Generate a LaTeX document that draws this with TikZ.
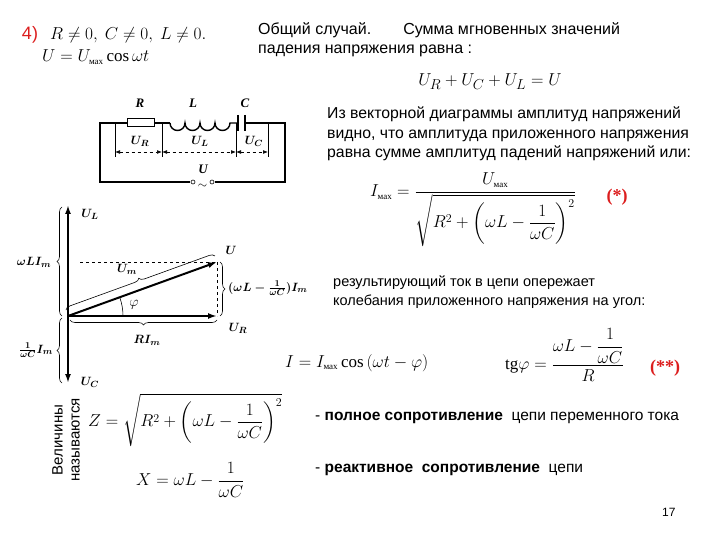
\documentclass[tikz,border=0pt]{standalone}
\usepackage{amsmath}
\usepackage{fontspec}
\setmainfont{Liberation Serif}
\newfontfamily\sansf{Liberation Sans}
\usetikzlibrary{arrows.meta,decorations.pathreplacing,calc}
\newcommand{\mx}{\mbox{\fontsize{9}{9}\selectfont мах}}
\definecolor{myred}{RGB}{220,30,30}
\begin{document}
\begin{tikzpicture}[x=1pt,y=-1pt,
  txt/.style={font=\sansf\fontsize{14.5}{19}\selectfont,anchor=west,inner sep=0},
  frm/.style={font=\fontsize{17}{19}\selectfont,inner sep=0},
  lab/.style={font=\boldmath\bfseries\itshape\fontsize{13}{14}\selectfont,inner sep=0},
  wire/.style={line width=1.4pt},
  thin/.style={line width=0.6pt},
  vec/.style={line width=2pt,-{Latex[length=9pt,width=6pt]}},
  brc/.style={decorate,decoration={brace,amplitude=5pt},line width=0.6pt},
  red/.style={text=myred,font=\bfseries\fontsize{18}{20}\selectfont,inner sep=0}]
\useasboundingbox (0,0) rectangle (720,540);
% header
\node[red,font=\sansf\fontsize{18}{20}\selectfont] (n4) at (30,35) {4)};
\node[frm,anchor=west] (cond) at (50,35) {$R\neq0,\ C\neq0,\ L\neq0.$};
\node[frm,anchor=west] (ueq) at (42,57) {$U=U_{\mx}\cos\omega t$};
\node[txt,font=\sansf\fontsize{16}{19}\selectfont] (t1) at (258,30) {Общий случай.\qquad Сумма мгновенных значений};
\node[txt,font=\sansf\fontsize{16}{19}\selectfont] (t2) at (258,51) {падения напряжения равна :};
\node[frm,font=\fontsize{19}{20}\selectfont] (sum) at (490,82) {$U_R+U_C+U_L=U$};
\node[txt,align=left,anchor=north west,font=\sansf\fontsize{15.8}{19.5}\selectfont] (t3) at (327,107) {Из векторной диаграммы амплитуд напряжений\\видно, что амплитуда приложенного напряжения\\равна сумме амплитуд падений напряжений или:};
% circuit
\draw[wire] (190,182) -- (100,182) -- (100,123) -- (127,123);
\node[draw,minimum width=27,minimum height=8,inner sep=0,line width=1pt] (res) at (140.5,123) {};
\draw[wire] (res.east) -- (170,123);
\draw[wire] (170,123) arc (180:0:7.5) arc (180:0:7.5) arc (180:0:7.5) arc (180:0:7.5) -- (238,123);
\draw[wire] (238,115) -- (238,131) (245,115) -- (245,131);
\draw[wire] (245,123) -- (285,123) -- (285,182) -- (215,182);
\draw[thin] (193,182) circle (2);
\draw[thin] (212,182) circle (2);
\node[font=\fontsize{12}{12}\selectfont,inner sep=0] (tld) at (202.5,186) {$\sim$};
\node[lab] (lU) at (203,169) {U};
\node[lab] (lR) at (140,103) {R};
\node[lab] (lL) at (193,103) {L};
\node[lab] (lC) at (245,103) {C};
\foreach \x in {115,162,236,268} \draw[thin] (\x,123) -- (\x,157);
\draw[thin,dashed,{Latex[length=5pt]}-{Latex[length=5pt]}] (115,152) -- (162,152);
\draw[thin,dashed,{Latex[length=5pt]}-{Latex[length=5pt]}] (162,152) -- (236,152);
\draw[thin,dashed,{Latex[length=5pt]}-{Latex[length=5pt]}] (236,152) -- (268,152);
\node[lab] (lUR) at (140,141) {$U_R$};
\node[lab] (lUL) at (200,141) {$U_L$};
\node[lab] (lUC) at (254,141) {$U_C$};
% vector diagram
\coordinate (O) at (68,316);
\coordinate (UL) at (68,205);
\coordinate (UC) at (68,383);
\coordinate (U) at (217,262);
\coordinate (UR) at (217,316);
\draw[vec] (O) -- (UL);
\draw[vec] (O) -- (UC);
\draw[vec] (O) -- (U);
\draw[vec] (O) -- (UR);
\draw[thin,dashed] (80,262) -- (U);
\draw[thin,dashed] (U) -- (UR);
\draw[thin] (O) ++(0:55) arc (0:-19:55);
\node[lab] (nUL) at (90,214) {$U_L$};
\node[lab] (nUC) at (90,382) {$U_C$};
\node[lab] (nU) at (231,250) {$U$};
\node[lab] (nUR) at (238,328) {$U_R$};
\node[lab,font=\fontsize{15}{15}\selectfont] (phi) at (134,305) {$\varphi$};
\draw[brc] (62,316) -- (62,207);
\node[lab] (bL) at (34,262) {$\omega LI_m$};
\draw[brc] (62,383) -- (62,318);
\node[lab] (bC) at (36,350) {$\frac{1}{\omega C}I_m$};
\draw[brc] (220,262) -- (220,316);
\node[lab,anchor=west] (bX) at (228,288) {$(\omega L-\frac{1}{\omega C})I_m$};
\draw[brc] (217,320) -- (70,320);
\node[lab] (bR) at (147,340) {$RI_m$};
\draw[brc] ($(O)+(-2,-6)$) -- ($(U)+(-2,-6)$);
\node[lab] (bU) at (127,269) {$U_m$};
\node[font=\sansf\fontsize{15}{17}\selectfont,rotate=90,align=center,inner sep=0] (vel) at (66,440) {Величины\\называются};
% formulas right
\node[frm,anchor=west] (imax) at (370,210) {$I_{\mx}=\dfrac{U_{\mx}}{\sqrt{R^2+\left(\omega L-\dfrac{1}{\omega C}\right)^2}}$};
\node[red] (s1) at (617,197) {(*)};
\node[txt,align=left,anchor=north west] (t4) at (333,276) {результирующий ток в цепи опережает\\колебания приложенного напряжения на угол:};
\node[frm,anchor=west] (icos) at (285,363) {$I=I_{\mx}\cos\left(\omega t-\varphi\right)$};
\node[frm,anchor=west] (tg) at (505,355) {$\mathrm{tg}\varphi=\dfrac{\omega L-\dfrac{1}{\omega C}}{R}$};
\node[red] (s2) at (665,368) {(**)};
\node[frm,anchor=west] (Z) at (88,420) {$Z=\sqrt{R^2+\left(\omega L-\dfrac{1}{\omega C}\right)^2}$};
\node[frm,anchor=west] (X) at (136,480) {$X=\omega L-\dfrac{1}{\omega C}$};
\node[txt,font=\sansf\fontsize{15.5}{19}\selectfont] (t5) at (315,418) {- \textbf{полное сопротивление}\ \ цепи переменного тока};
\node[txt,font=\sansf\fontsize{15.5}{19}\selectfont] (t6) at (315,470) {- \textbf{реактивное\ \ сопротивление}\ \ цепи};
\node[txt,font=\sansf\fontsize{12}{12}\selectfont] (pg) at (662,512) {17};
\end{tikzpicture}
\end{document}
